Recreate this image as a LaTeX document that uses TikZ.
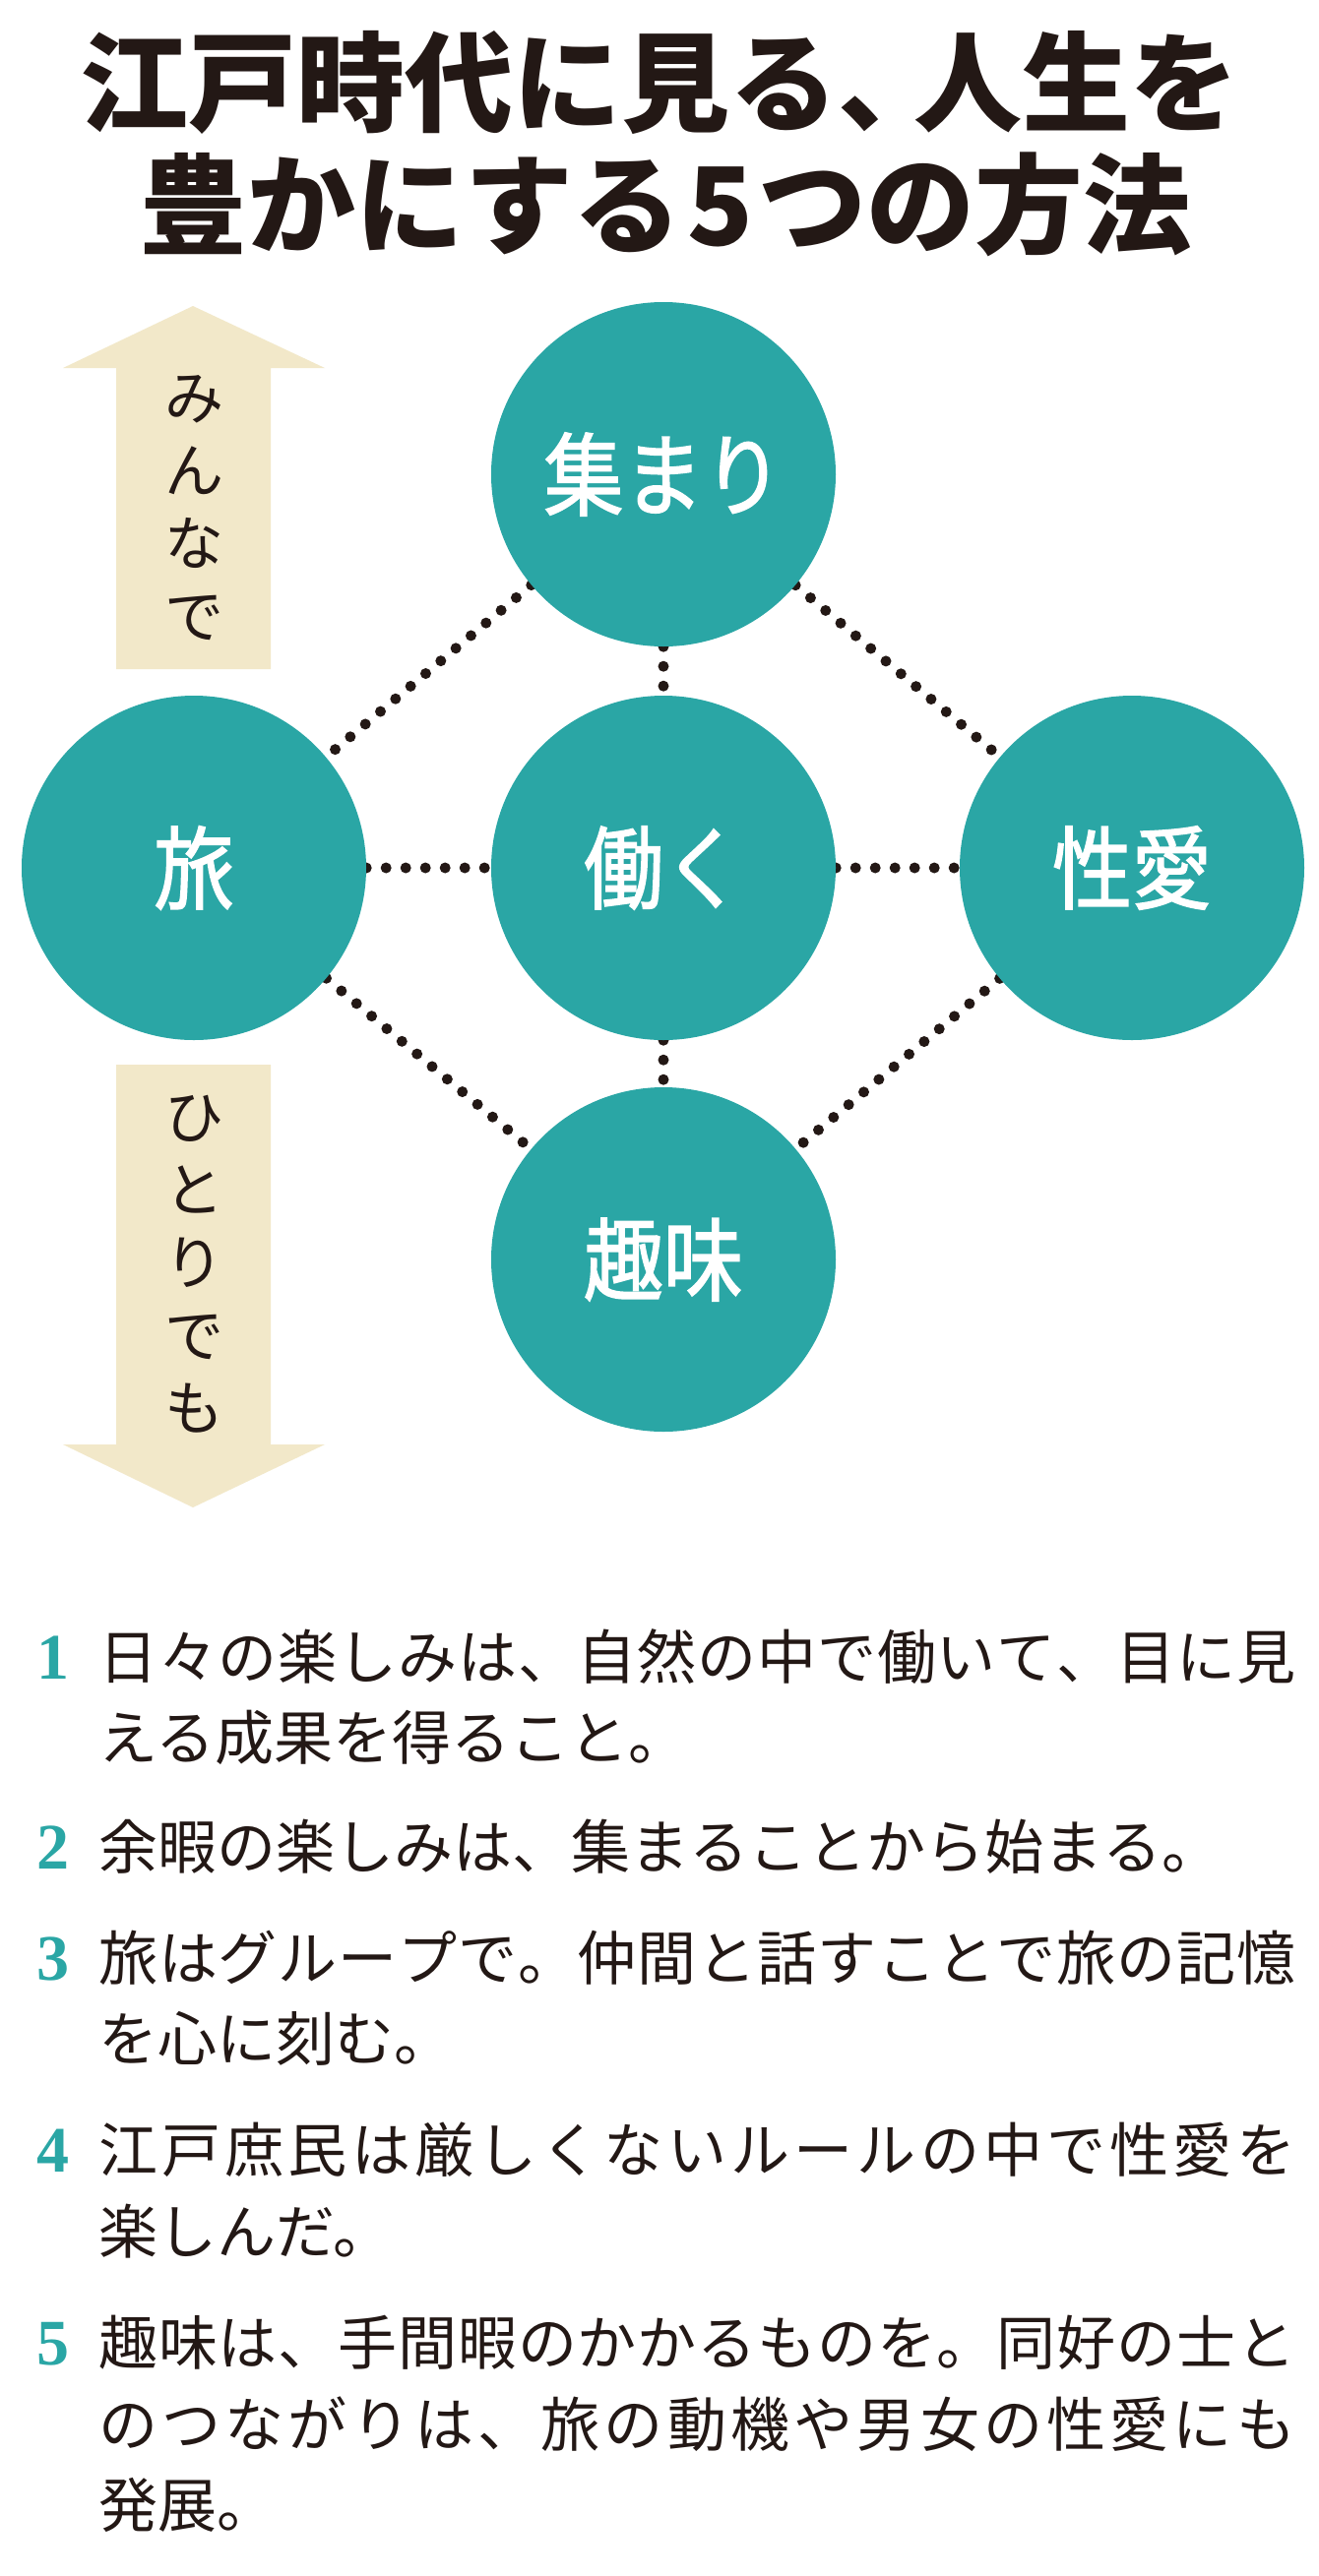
\documentclass[tikz,border=0pt]{standalone}
\usepackage{fontspec}
\newfontfamily\jp{Noto Sans CJK JP}
\newfontfamily\jpc{Noto Sans CJK JP}[FakeStretch=0.88, FakeBold=1.6]
\newfontfamily\numf{Liberation Serif}
\usetikzlibrary{backgrounds}
\definecolor{tealc}{RGB}{42,166,165}
\definecolor{beigec}{RGB}{242,232,201}
\definecolor{ink}{HTML}{231815}
\makeatletter
\def\jline#1#2{\hbox to #1{\jl@a#2\relax}}
\def\jl@a#1{\ifx#1\relax\unskip\else#1\hfil\expandafter\jl@a\fi}
\makeatother
\begin{document}
\begin{tikzpicture}[x=1pt,y=-1pt,
  circ/.style={circle, fill=tealc, minimum size=350pt, inner sep=0pt, text=white,
    font=\jpc\fontsize{92}{100}\selectfont},
  dotline/.style={draw=ink, line width=11pt, line cap=round, dash pattern=on 0pt off 20pt},
  ttl/.style={inner sep=0pt, anchor=base, text=ink, font=\jp\bfseries\fontsize{110}{130}\selectfont},
  body/.style={inner sep=0pt, anchor=base west, text=ink, font=\jp\fontsize{60}{72}\selectfont},
  num/.style={inner sep=0pt, anchor=base, text=tealc, font=\numf\bfseries\fontsize{66}{72}\selectfont},
  vtext/.style={inner sep=0pt, align=center, text=ink, font=\jp\fontsize{60}{74}\selectfont},
  arrowshape/.style={fill=beigec}]
\useasboundingbox (0,0) rectangle (1340,2618);

% title
\node[ttl] (t1) at (670,125) {江戸時代に見る、\kern-0.3em人生を};
\node[ttl] (t2) at (676,249) {豊かにする\kern0.05em 5\kern0.05em つの方法};

% side arrows
\fill[arrowshape] (118,680) -- (118,374) -- (64,374) -- (196,311) -- (330,374) -- (275,374) -- (275,680) -- cycle;
\fill[arrowshape] (118,1082) -- (118,1468) -- (64,1468) -- (196,1532) -- (330,1468) -- (275,1468) -- (275,1082) -- cycle;
\node[vtext] (minna) at (197,516) {み\\ん\\な\\で};
\node[vtext] (hitori) at (197,1285) {ひ\\と\\り\\で\\も};

% circles
\node[circ] (atsu) at (674,482) {集まり};
\node[circ] (tabi) at (197,882) {旅};
\node[circ] (hata) at (674,882) {働く};
\node[circ] (sei) at (1150,882) {性愛};
\node[circ] (shumi) at (674,1280) {趣味};

\begin{scope}[on background layer]
\fill[white] (0,0) rectangle (1340,2618);
\draw[dotline] (atsu) -- (tabi);
\draw[dotline] (atsu) -- (sei);
\draw[dotline] (atsu) -- (hata);
\draw[dotline] (tabi) -- (hata);
\draw[dotline] (hata) -- (sei);
\draw[dotline] (tabi) -- (shumi);
\draw[dotline] (sei) -- (shumi);
\draw[dotline] (hata) -- (shumi);
\end{scope}

% list
\node[num] (n1) at (54,1706) {1};
\node[body] (l1a) at (100,1706) {\jline{1216pt}{日々の楽しみは、自然の中で働いて、目に見}};
\node[body] (l1b) at (100,1788) {える成果を得ること。};
\node[num] (n2) at (54,1899) {2};
\node[body] (l2a) at (100,1899) {余暇の楽しみは、集まることから始まる。};
\node[num] (n3) at (54,2012) {3};
\node[body] (l3a) at (100,2012) {\jline{1216pt}{旅はグループで。仲間と話すことで旅の記憶}};
\node[body] (l3b) at (100,2094) {を心に刻む。};
\node[num] (n4) at (54,2207) {4};
\node[body] (l4a) at (100,2207) {\jline{1216pt}{江戸庶民は厳しくないルールの中で性愛を}};
\node[body] (l4b) at (100,2290) {楽しんだ。};
\node[num] (n5) at (54,2403) {5};
\node[body] (l5a) at (100,2403) {\jline{1216pt}{趣味は、手間暇のかかるものを。同好の士と}};
\node[body] (l5b) at (100,2486) {\jline{1216pt}{のつながりは、旅の動機や男女の性愛にも}};
\node[body] (l5c) at (100,2568) {発展。};
\end{tikzpicture}
\end{document}
